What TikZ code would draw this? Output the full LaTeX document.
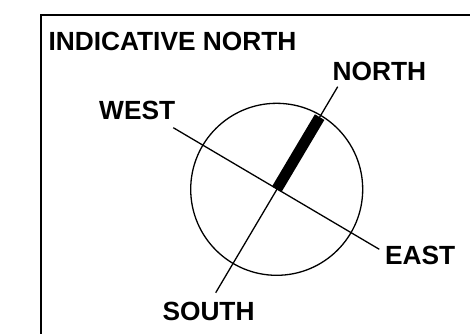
\documentclass[tikz,border=0pt]{standalone}
\usepackage{fontspec}
\setmainfont{Liberation Sans}
\usetikzlibrary{calc}
\begin{document}
\begin{tikzpicture}[x=1pt,y=-1pt,
  lbl/.style={font=\fontsize{26.3}{30}\selectfont\bfseries, inner sep=0pt, anchor=base west},
  frame/.style={line width=2pt, line cap=rect},
  thinl/.style={line width=1.3pt},
  bar/.style={line width=11pt, line cap=butt}]
\useasboundingbox (0,0) rectangle (470,333);
\draw[frame] (41,340) -- (41,15) -- (475,15);
\coordinate (C) at (276.7,189.3);
\coordinate (W) at (173.3,127.7);
\coordinate (E) at (379.3,249.3);
\coordinate (N) at (337.7,86.7);
\coordinate (S) at (215.7,292.7);
\draw[thinl] (C) circle[radius=86];
\draw[thinl] (W) -- (E);
\draw[thinl] (S) -- (N);
\draw[bar] (C) -- ($(C)!84pt!(N)$);
\node[lbl] (title) at (48.3,50) {INDICATIVE NORTH};
\node[lbl] (ln) at (332.5,80) {NORTH};
\node[lbl] (lw) at (99,119) {WEST};
\node[lbl] (le) at (384.9,264) {EAST};
\node[lbl] (ls) at (162.3,320.7) {SOUTH};
\end{tikzpicture}
\end{document}
